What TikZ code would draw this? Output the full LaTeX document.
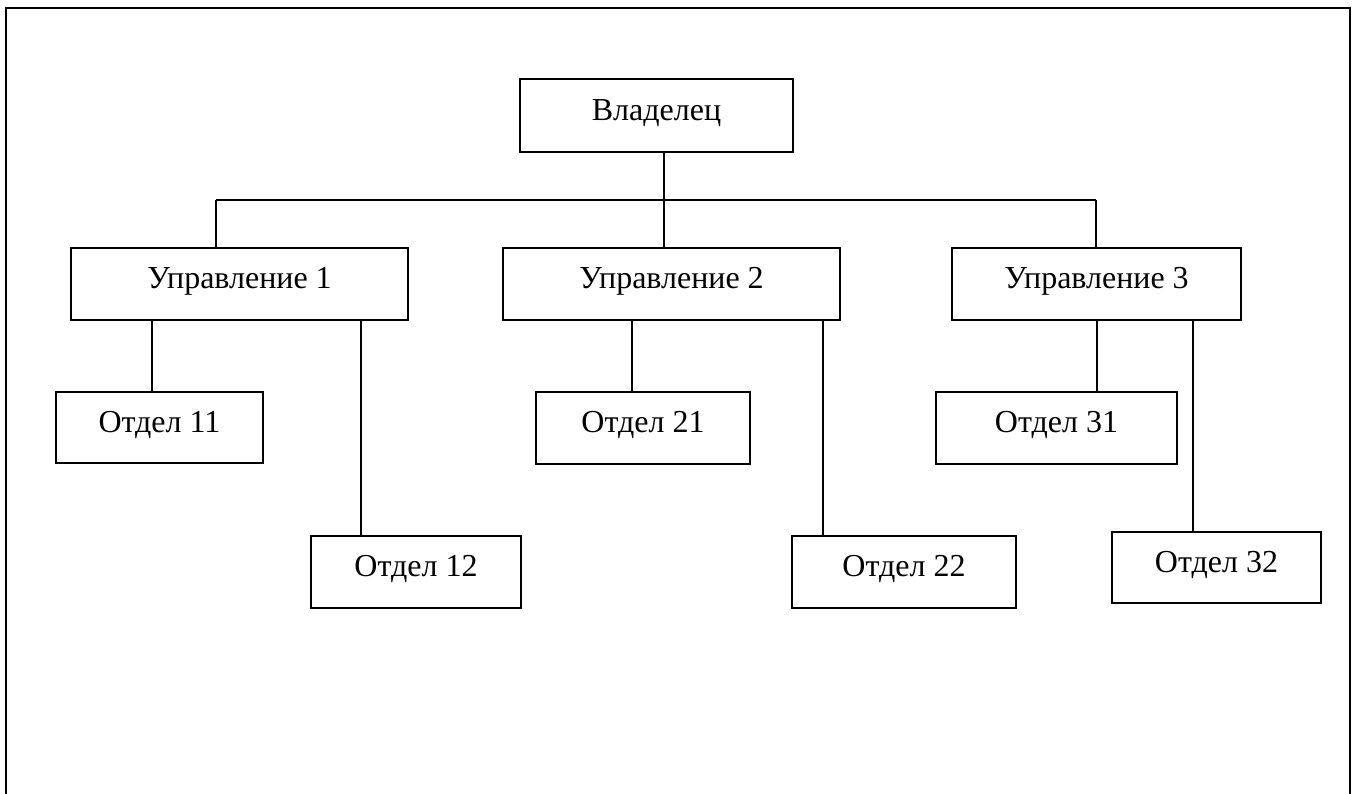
\documentclass[tikz,border=0pt]{standalone}
\usepackage{fontspec}
\setmainfont{Liberation Serif}
\begin{document}
\begin{tikzpicture}[x=1pt,y=-1pt,
  orgbox/.style={draw, line width=1.8pt, inner sep=0pt, text height=1.12em, text depth=0.18em,
    font=\fontsize{32}{37}\selectfont},
  link/.style={line width=1.6pt}]
\useasboundingbox (0,0) rectangle (1357,794);
% outer frame (open at the bottom)
\draw[line width=2pt] (6,794) -- (6,8) -- (1350,8) -- (1350,794);

\node[orgbox, minimum width=273pt, minimum height=73pt] (own) at (656.5,115.5) {Владелец};
\node[orgbox, minimum width=337pt, minimum height=72pt] (u1) at (239.5,284) {Управление 1};
\node[orgbox, minimum width=337pt, minimum height=72pt] (u2) at (671.5,284) {Управление 2};
\node[orgbox, minimum width=289pt, minimum height=72pt] (u3) at (1096.5,284) {Управление 3};

\node[orgbox, minimum width=207pt, minimum height=71pt] (o11) at (159.5,427.5) {Отдел 11};
\node[orgbox, minimum width=210pt, minimum height=72pt] (o12) at (416,572) {Отдел 12};
\node[orgbox, minimum width=214pt, minimum height=72pt] (o21) at (643,428) {Отдел 21};
\node[orgbox, minimum width=224pt, minimum height=72pt] (o22) at (904,572) {Отдел 22};
\node[orgbox, minimum width=241pt, minimum height=72pt] (o31) at (1056.5,428) {Отдел 31};
\node[orgbox, minimum width=209pt, minimum height=71pt] (o32) at (1216.5,567.5) {Отдел 32};

% bus coordinates
\coordinate (b1) at (216,200);
\coordinate (b2) at (664,200);
\coordinate (b3) at (1096,200);
\coordinate (c11) at (152,0);
\coordinate (c12) at (361,0);
\coordinate (c21) at (632,0);
\coordinate (c22) at (823,0);
\coordinate (c31) at (1097,0);
\coordinate (c32) at (1193,0);

\draw[link] (own.south -| b2) -- (b2);
\draw[link] (b1) -- (b3);
\draw[link] (b1) -- (b1 |- u1.north);
\draw[link] (b2) -- (b2 |- u2.north);
\draw[link] (b3) -- (b3 |- u3.north);

\draw[link] (u1.south -| c11) -- (o11.north -| c11);
\draw[link] (u1.south -| c12) -- (o12.north -| c12);
\draw[link] (u2.south -| c21) -- (o21.north -| c21);
\draw[link] (u2.south -| c22) -- (o22.north -| c22);
\draw[link] (u3.south -| c31) -- (o31.north -| c31);
\draw[link] (u3.south -| c32) -- (o32.north -| c32);
\end{tikzpicture}
\end{document}
